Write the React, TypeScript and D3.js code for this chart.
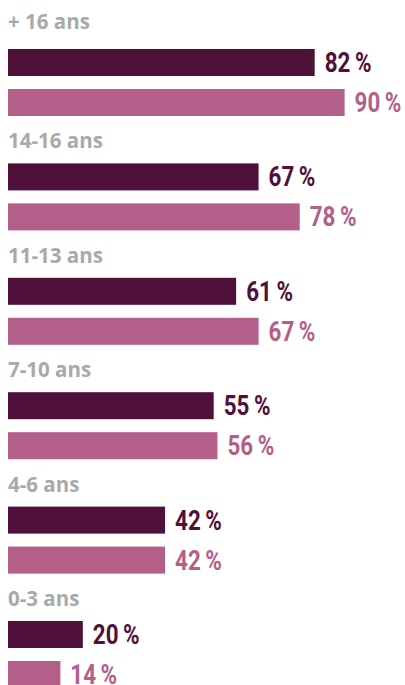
import React, { useRef, useEffect } from 'react';
import * as d3 from 'd3';

const ageGroups = ['+ 16 ans', '14-16 ans', '11-13 ans', '7-10 ans', '4-6 ans', '0-3 ans'];
const seriesA = [82, 67, 61, 55, 42, 20];
const seriesB = [90, 78, 67, 56, 42, 14];

const WIDTH = 405;
const HEIGHT = 685;

const App: React.FC = () => {
  const ref = useRef<SVGSVGElement | null>(null);

  useEffect(() => {
    const svg = d3.select(ref.current);
    svg.selectAll('*').remove();
    svg.attr('width', WIDTH).attr('height', HEIGHT);

    const x = d3.scaleLinear().domain([0, 100]).range([8, 382]);
    // top of the dark bar in each group
    const y = d3.scaleBand<string>().domain(ageGroups).range([49, 49 + 114.4 * 6]);
    const barH = 27;
    const pinkOffset = 40;
    const squeeze = 0.8; // fake a condensed face

    const data = ageGroups.map((g, i) => ({ group: g, a: seriesA[i], b: seriesB[i] }));

    const g = svg.selectAll('g.grp').data(data).enter().append('g')
      .attr('class', 'grp')
      .attr('transform', (d) => `translate(0,${y(d.group)})`);

    g.append('text')
      .attr('x', 8)
      .attr('y', (d, i) => (i === 0 ? -20 : -15))
      .attr('fill', '#a9a9ab')
      .attr('font-family', '"Open Sans", sans-serif')
      .attr('font-weight', 700)
      .attr('font-size', 20.5)
      .text((d) => d.group);

    const bars = [
      { key: 'a' as const, color: '#4f1039', dy: 0 },
      { key: 'b' as const, color: '#b45e8a', dy: pinkOffset }
    ];

    bars.forEach((s) => {
      g.append('rect')
        .attr('x', x(0))
        .attr('y', s.dy)
        .attr('width', (d) => x(d[s.key]) - x(0))
        .attr('height', barH)
        .attr('fill', s.color);

      g.append('text')
        .attr('transform', (d) => `translate(${x(d[s.key]) + 10},${s.dy + 23}) scale(${squeeze},1)`)
        .attr('fill', s.color)
        .attr('font-family', 'Roboto, sans-serif')
        .attr('font-weight', 700)
        .attr('font-size', 28)
        .text((d) => `${d[s.key]}\u2009%`);
    });
  }, []);

  return (
    <div style={{ position: 'absolute', left: 0, top: 0 }}>
      <svg ref={ref} />
    </div>
  );
};

export default App;
